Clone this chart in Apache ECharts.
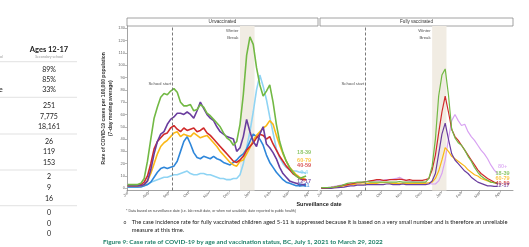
<!DOCTYPE html>
<html>
<head>
<meta charset="utf-8">
<script src="https://cdn.jsdelivr.net/npm/echarts@6/dist/echarts.min.js"></script>
<style>
  html, body { margin: 0; padding: 0; background: #fff; }
  #chart { width: 529px; height: 247px; }
</style>
</head>
<body>
<div id="chart"></div>
<script>
// sampling: one value every 5 days from Jul 1, 2021
const startDate = '2021-07-01';
const dayStep = 5;

const monthLabels = ['Jul', 'Aug', 'Sep', 'Oct', 'Nov', 'Dec', 'Jan', 'Feb', 'Mar', 'Apr'];
const monthTicks = ['2021-07-01', '2021-08-01', '2021-09-01', '2021-10-01', '2021-11-01',
  '2021-12-01', '2022-01-01', '2022-02-01', '2022-03-01', '2022-04-01'];
const yTicks = [0, 10, 20, 30, 40, 50, 60, 70, 80, 90, 100, 110, 120, 130];

const schoolStart = '2021-09-07';
const breakStart = '2021-12-18';
const breakEnd = '2022-01-09';

// unvaccinated (rate per 100,000, 7-day avg)
const unvac18_39 = [3,3,3,3,4,8,22,40,57,66,74,77,76,79,81,78,70,67,67,68,63,64,68,66,61,59,56,53,50,45,41,39,35,38,52,76,108,123,117,98,84,75,79,84,70,52,38,29,22,17,13,10,8,9,10];
const unvac12_17 = [2,2,2,2,2,3,6,15,28,38,44,46,52,56,58,61,61,60,62,60,57,63,70,65,60,57,55,50,46,44,42,41,40,30,33,42,56,46,38,34,44,50,36,33,29,24,17,12,9,6,5,4,3,3,3];
const unvac40_59 = [2,2,2,2,3,5,10,20,32,38,41,44,45,49,51,48,46,49,47,48,49,46,47,49,45,43,40,37,34,31,28,25,22,21,23,26,31,34,37,41,44,43,40,42,36,31,26,22,18,15,12,10,8,7,7];
const unvac60_79 = [2,2,2,2,2,3,6,12,20,28,34,37,39,42,45,46,42,44,43,42,45,43,41,42,43,40,37,34,30,27,24,21,19,18,22,23,28,33,39,43,46,49,51,55,52,43,35,28,22,17,14,11,9,8,7];
const unvac5_11 = [1,1,1,1,1,2,3,5,9,13,16,17,16,17,18,22,30,38,42,36,29,25,24,26,25,24,26,24,23,21,20,19,21,23,26,28,32,38,44,42,40,35,27,21,17,13,10,7,5,4,3,2,2,2,2];
const unvac0_4 = [1,1,1,1,2,2,3,5,6,7,8,9,9,10,11,11,12,13,14,12,11,11,12,12,11,11,10,9,8,8,7,7,8,8,11,20,33,46,62,80,92,83,72,58,45,32,25,20,17,15,14,14,13,13,12];

// fully vaccinated
const vac18_39 = [0.5,0.5,0.6,0.8,1,1.5,2,3,4,4.5,4.5,5,5,5,5.5,5,5,5,5,5,5,5,5,5,5.5,5,5,5,5,5,5,5,5,8,18,40,75,92,97,76,48,41,37,35,31,26,22,17,13,10,8,6.5,5,4.5,4];
const vac40_59 = [0.3,0.3,0.5,0.7,1,1.5,2,2.5,3,3.5,4,4.5,4.5,5,5.5,6,6.5,7,7,6.5,6.5,7,7,7,7.5,7,6.5,7,6.5,6.5,6.5,6.5,7,8,15,27,45,62,75,62,48,42,39,35,31,27,23,19,15,12,10,8,6.5,5,4];
const vac12_17 = [0,0,0,0,0.3,0.5,0.8,1,1.5,2,2,2.5,2.5,2.5,3,3,3,3,3,3,3.5,3.5,3,3,3,3.5,3,3,3,3,3,3,3,3.5,6,12,28,44,53,40,28,23,20,17,14,12,9,7,5,4,3,2,2,1.5,1.5];
const vac60_79 = [0.2,0.2,0.3,0.5,0.7,1,1.5,2,2.5,3,3,3.5,3.5,3.5,4,4,4,4,4.5,4.5,4.5,4,4,4,4,4,4,4,4,4,4,4,4,4.5,5,8,14,23,33,30,26,24,22,20,18,15,13,11,10,8,7,6,5,4.5,4];
const vac80plus = [0.5,0.5,0.7,1,1.5,2,2.5,3,3.5,4,4,4.5,5,5,5.5,6,6,6.5,6,6.5,7,7,7.5,8,9,7.5,6.5,6,5.5,5,5,5,4.5,4,3.5,3.5,6,12,23,40,55,60,55,51,52,46,42,39,35,31,28,24,19,15,12];

// end-of-line labels
const leftLabelNames = ['18-39', '60-79', '40-59', '0-4', '12-17', '5-11'];
const leftLabelVals = [29.5, 22.4, 18.4, 13, 5.4, 2.4];
const rightLabelNames = ['80+', '18-39', '60-79', '40-59', '12-17'];
const rightLabelVals = [17.5, 12.2, 8.1, 4.1, 1.9];

// table fragment on the left
const tableValues = ['89%', '85%', '33%', '251', '7,775', '18,161', '26', '119', '153', '2', '9', '16', '0', '0', '0'];
const tableRowY = [70, 80, 90, 106, 116.7, 126.7, 141.7, 151.7, 162.5, 176.7, 187.3, 198.5, 212.3, 223.3, 234];
const tableRuleY = [61.7, 97.3, 134, 170, 205.7];

const colors = {
  '18-39': '#72b944', '60-79': '#fbb817', '40-59': '#d02b2b', '0-4': '#8fd4f4',
  '12-17': '#6a3d9e', '5-11': '#2f87da', '80+': '#d8a2f2'
};

function ts(s) {
  const p = s.split('-').map(Number);
  return new Date(p[0], p[1] - 1, p[2]).getTime();
}
const t0 = ts(startDate);
function sampleDate(i) {
  const d = new Date(t0);
  d.setDate(d.getDate() + i * dayStep);
  return d.getTime();
}
const monthTickTs = monthTicks.map(ts);

const chart = echarts.init(document.getElementById('chart'));
const FONT = 'Liberation Sans';
const DOC_FONT = 'Lato';

function xAxisFor(gi, min, max) {
  return {
    type: 'value', gridIndex: gi, min: ts(min), max: ts(max),
    axisLine: { show: true, onZero: false, lineStyle: { color: '#8c8c8c', width: 0.8 } },
    axisTick: { show: true, length: 2, customValues: monthTickTs, lineStyle: { color: '#8c8c8c', width: 0.6 } },
    axisLabel: {
      customValues: monthTickTs, rotate: 45, fontSize: 4, color: '#666', margin: 2, fontFamily: FONT,
      showMinLabel: true, showMaxLabel: true,
      formatter: function (v) {
        let best = 0;
        monthTickTs.forEach(function (t, i) { if (Math.abs(t - v) < Math.abs(monthTickTs[best] - v)) best = i; });
        return monthLabels[best];
      }
    },
    splitLine: { show: false }
  };
}

function lineSeries(name, data, gi, width, extra) {
  return Object.assign({
    name: name, type: 'line', xAxisIndex: gi, yAxisIndex: gi,
    data: data.map(function (v, i) { return [sampleDate(i), v]; }),
    showSymbol: false, symbol: 'none', silent: true,
    lineStyle: { color: colors[name], width: width },
    itemStyle: { color: colors[name] }
  }, extra || {});
}

function guides() {
  return {
    markLine: {
      silent: true, symbol: ['none', 'none'], label: { show: false },
      lineStyle: { type: [3, 2], color: '#6b6b6b', width: 0.9 },
      data: [{ xAxis: ts(schoolStart) }]
    },
    markArea: {
      silent: true, itemStyle: { color: '#f1ece3' },
      data: [[{ xAxis: ts(breakStart) }, { xAxis: ts(breakEnd) }]]
    }
  };
}

function labelSeries(gi, names, vals, date) {
  return {
    type: 'scatter', xAxisIndex: gi, yAxisIndex: gi, symbolSize: 0, silent: true, z: 5,
    data: names.map(function (n, i) {
      return {
        value: [ts(date), vals[i]],
        label: { show: true, position: 'inside', formatter: n, color: colors[n], fontSize: 5.5, fontWeight: 'bold', fontFamily: FONT }
      };
    })
  };
}

function noteSeries(gi) {
  const style = { show: true, position: 'left', distance: 1.5, fontSize: 4.3, color: '#222', fontFamily: FONT, align: 'right', lineHeight: 7 };
  return {
    type: 'scatter', xAxisIndex: gi, yAxisIndex: gi, symbolSize: 0, silent: true, z: 5,
    data: [
      { value: [ts(schoolStart), 84.7], label: Object.assign({ formatter: 'School start' }, style) },
      { value: [ts(breakStart), 125], label: Object.assign({ formatter: 'Winter\nBreak' }, style) }
    ]
  };
}

const graphics = [];
// facet strips
[['Unvaccinated', 127, 191], ['Fully vaccinated', 320, 193]].forEach(function (s) {
  graphics.push({ type: 'rect', shape: { x: s[1], y: 18, width: s[2], height: 8 }, style: { fill: '#fff', stroke: '#8c8c8c', lineWidth: 0.8 } });
  graphics.push({ type: 'text', x: s[1] + s[2] / 2, y: 22.2, style: { text: s[0], fontSize: 4.6, fill: '#333', fontFamily: FONT, textAlign: 'center', textVerticalAlign: 'middle' } });
});
// table
graphics.push({ type: 'text', x: 49, y: 49.3, style: { text: 'Ages 12-17', fontSize: 7.5, fontWeight: 'bold', fill: '#222', fontFamily: DOC_FONT, textAlign: 'center', textVerticalAlign: 'middle' } });
graphics.push({ type: 'text', x: 49, y: 57.3, style: { text: 'Secondary school', fontSize: 3.6, fill: '#9a9a9a', fontFamily: DOC_FONT, textAlign: 'center', textVerticalAlign: 'middle' } });
graphics.push({ type: 'text', x: 0, y: 57.3, style: { text: 'ol', fontSize: 3.6, fill: '#9a9a9a', fontFamily: DOC_FONT, textAlign: 'left', textVerticalAlign: 'middle' } });
graphics.push({ type: 'text', x: -1, y: 90, style: { text: 'e', fontSize: 7, fill: '#222', fontFamily: DOC_FONT, textAlign: 'left', textVerticalAlign: 'middle' } });
tableValues.forEach(function (v, i) {
  graphics.push({ type: 'text', x: 49, y: tableRowY[i], style: { text: v, fontSize: 7, fill: '#222', fontFamily: DOC_FONT, textAlign: 'center', textVerticalAlign: 'middle' } });
});
tableRuleY.forEach(function (y) {
  graphics.push({ type: 'line', shape: { x1: 0, y1: y, x2: 77, y2: y }, style: { stroke: '#cfcfcf', lineWidth: 0.6 } });
});
// below chart
graphics.push({ type: 'text', x: 319, y: 204, style: { text: 'Surveillance date', fontSize: 5.5, fontWeight: 'bold', fill: '#222', fontFamily: FONT, textAlign: 'center', textVerticalAlign: 'middle' } });
graphics.push({ type: 'text', x: 126, y: 210.7, style: { text: '* Data based on surveillance date (i.e. lab result date, or when not available, date reported to public health)', fontSize: 3.6, fill: '#444', fontFamily: FONT, textAlign: 'left', textVerticalAlign: 'middle' } });
graphics.push({ type: 'text', x: 125, y: 222, style: { text: 'o', fontSize: 5, fill: '#333', fontFamily: DOC_FONT, textAlign: 'center', textVerticalAlign: 'middle' } });
graphics.push({ type: 'text', x: 131.7, y: 222, style: { text: 'The case incidence rate for fully vaccinated children aged 5-11 is suppressed because it is based on a very small number and is therefore an unreliable', fontSize: 5.75, fill: '#222', fontFamily: DOC_FONT, textAlign: 'left', textVerticalAlign: 'middle' } });
graphics.push({ type: 'text', x: 131.7, y: 230, style: { text: 'measure at this time.', fontSize: 5.75, fill: '#222', fontFamily: DOC_FONT, textAlign: 'left', textVerticalAlign: 'middle' } });
graphics.push({ type: 'text', x: 103, y: 241.7, style: { text: 'Figure 9: Case rate of COVID-19 by age and vaccination status, BC, July 1, 2021 to March 29, 2022', fontSize: 6.4, fontWeight: 'bold', fill: '#1f8069', fontFamily: DOC_FONT, textAlign: 'left', textVerticalAlign: 'middle' } });

const option = {
  animation: false,
  backgroundColor: '#fff',
  textStyle: { fontFamily: FONT },
  grid: [
    { left: 127, top: 26, width: 191, height: 164.5 },
    { left: 320, top: 26, width: 193, height: 164.5 }
  ],
  xAxis: [
    xAxisFor(0, '2021-06-30', '2022-04-15'),
    xAxisFor(1, '2021-06-29', '2022-04-21')
  ],
  yAxis: [
    {
      type: 'value', gridIndex: 0, min: -1.8, max: 131.9,
      axisLine: { show: true, lineStyle: { color: '#8c8c8c', width: 0.8 } },
      axisTick: { show: true, length: 2, customValues: yTicks, lineStyle: { color: '#8c8c8c', width: 0.6 } },
      axisLabel: { customValues: yTicks, fontSize: 4, color: '#666', margin: 2, fontFamily: FONT },
      splitLine: { show: false },
      name: 'Rate of COVID-19 cases per 100,000 population\n(7-day moving average)',
      nameLocation: 'middle', nameGap: 12,
      nameTextStyle: { fontSize: 5, fontWeight: 'bold', color: '#333', lineHeight: 7, fontFamily: FONT }
    },
    { type: 'value', gridIndex: 1, min: -1.8, max: 131.9, show: false, splitLine: { show: false } }
  ],
  series: [
    lineSeries('0-4', unvac0_4, 0, 1.6, guides()),
    lineSeries('5-11', unvac5_11, 0, 1.6),
    lineSeries('60-79', unvac60_79, 0, 1.6),
    lineSeries('40-59', unvac40_59, 0, 1.6),
    lineSeries('12-17', unvac12_17, 0, 1.6),
    lineSeries('18-39', unvac18_39, 0, 1.6),
    labelSeries(0, leftLabelNames, leftLabelVals, '2022-03-25'),
    noteSeries(0),
    lineSeries('80+', vac80plus, 1, 1.2, guides()),
    lineSeries('60-79', vac60_79, 1, 1.2),
    lineSeries('12-17', vac12_17, 1, 1.2),
    lineSeries('40-59', vac40_59, 1, 1.2),
    lineSeries('18-39', vac18_39, 1, 1.2),
    labelSeries(1, rightLabelNames, rightLabelVals, '2022-04-05'),
    noteSeries(1)
  ],
  graphic: graphics
};
chart.setOption(option);
</script>
</body>
</html>
